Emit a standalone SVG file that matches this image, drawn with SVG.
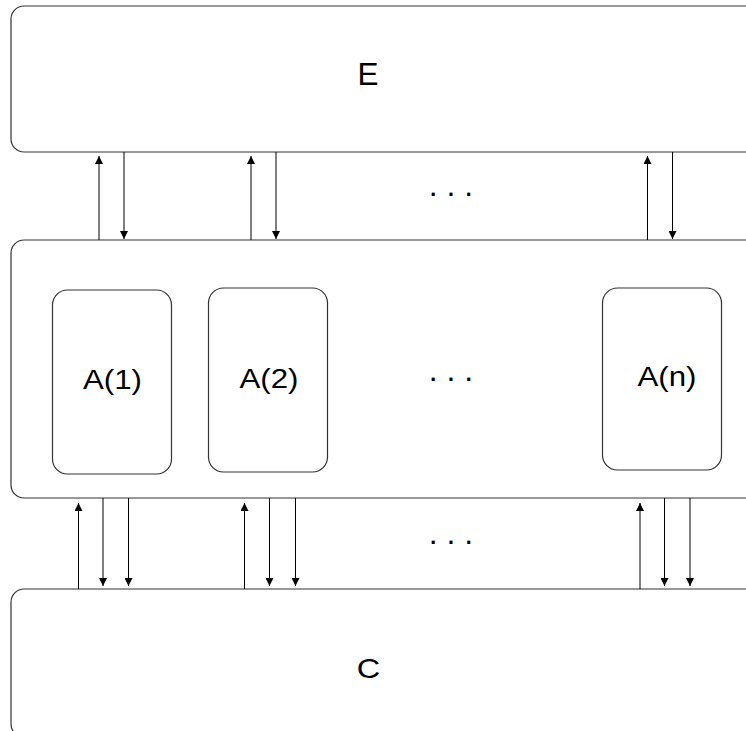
<svg xmlns="http://www.w3.org/2000/svg" width="746" height="731" viewBox="0 0 746 731">
<defs>
<style>
.box{fill:#fff;stroke:#333;stroke-width:1.2}
.lbl{font-family:"Liberation Sans",Arial,sans-serif;font-size:27px;fill:#000;text-anchor:middle}
.dots{font-family:"Liberation Sans",Arial,sans-serif;font-size:32px;fill:#000;text-anchor:middle}
.ln{stroke:#000;stroke-width:1;fill:none;marker-end:url(#ah)}
</style>
<marker id="ah" viewBox="0 0 8 8" refX="8" refY="4" markerWidth="8" markerHeight="8" markerUnits="userSpaceOnUse" orient="auto">
<path d="M0,0 L8,4 L0,8 Z" fill="#000"/>
</marker>
</defs>
<g id="E"><rect class="box" x="11" y="6" width="760" height="146" rx="13"/><text class="lbl" x="368" y="85" style="font-size:31.5px">E</text></g>
<g id="M"><rect class="box" x="11" y="240" width="760" height="258" rx="13"/></g>
<g id="A1"><rect class="box" x="52.5" y="290" width="119" height="184" rx="15"/><text class="lbl" x="112.5" y="389" textLength="59" lengthAdjust="spacingAndGlyphs">A(1)</text></g>
<g id="A2"><rect class="box" x="208.5" y="288" width="119" height="184" rx="15"/><text class="lbl" x="269" y="388" textLength="59" lengthAdjust="spacingAndGlyphs">A(2)</text></g>
<g id="An"><rect class="box" x="602.5" y="288" width="119" height="182" rx="15"/><text class="lbl" x="667" y="386" textLength="59" lengthAdjust="spacingAndGlyphs">A(n)</text></g>
<g id="C"><rect class="box" x="11" y="589" width="760" height="148" rx="13"/><text class="lbl" x="368.5" y="678" style="font-size:28px" textLength="23.5" lengthAdjust="spacingAndGlyphs">C</text></g>
<g id="dots">
<text class="dots" x="451" y="196">. . .</text>
<text class="dots" x="451" y="381">. . .</text>
<text class="dots" x="451" y="544">. . .</text>
</g>
<g id="connectors">
<line class="ln" x1="99" y1="240" x2="99" y2="156"/>
<line class="ln" x1="124" y1="152" x2="124" y2="239"/>
<line class="ln" x1="251" y1="240" x2="251" y2="156"/>
<line class="ln" x1="276" y1="152" x2="276" y2="239"/>
<line class="ln" x1="647.5" y1="240" x2="647.5" y2="156"/>
<line class="ln" x1="672.5" y1="152" x2="672.5" y2="239"/>
<line class="ln" x1="78.5" y1="589" x2="78.5" y2="503"/>
<line class="ln" x1="103" y1="498" x2="103" y2="586"/>
<line class="ln" x1="128.5" y1="498" x2="128.5" y2="586"/>
<line class="ln" x1="244.5" y1="589" x2="244.5" y2="503"/>
<line class="ln" x1="269.5" y1="498" x2="269.5" y2="586"/>
<line class="ln" x1="295.5" y1="498" x2="295.5" y2="586"/>
<line class="ln" x1="640" y1="589" x2="640" y2="503"/>
<line class="ln" x1="664.5" y1="498" x2="664.5" y2="586"/>
<line class="ln" x1="690" y1="498" x2="690" y2="586"/>
</g>
</svg>
